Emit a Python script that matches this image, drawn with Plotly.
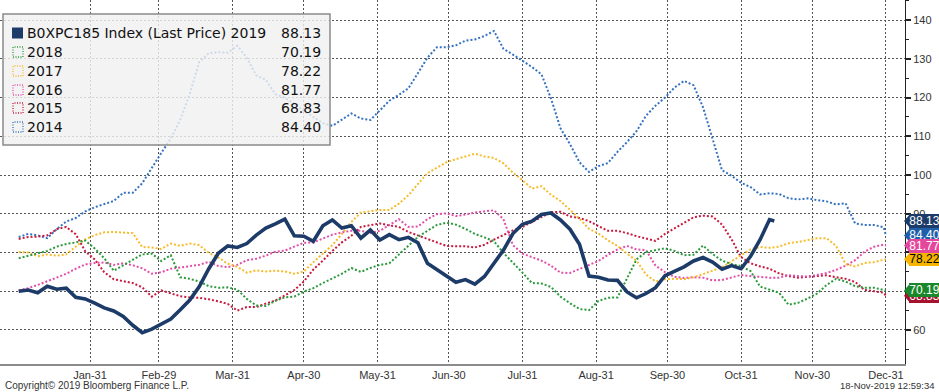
import pandas as pd
import plotly.graph_objects as go

# ---------------- data ----------------
grid = pd.date_range("2020-01-01", periods=92, freq="4D")
dates_full = list(grid.strftime("%Y-%m-%d")) + ["2020-12-31"]
dates_2019 = list(grid[:80].strftime("%Y-%m-%d")) + ["2020-11-14"]

v2019 = [70.0, 70.3, 69.6, 71.3, 70.5, 70.8, 68.4, 68.0, 66.9, 65.7,
         64.9, 63.5, 61.2, 59.3, 60.2, 61.5, 62.8, 65.2, 67.7, 71.2,
         75.8, 79.8, 81.7, 81.3, 82.3, 84.5, 86.3, 87.4, 88.6, 84.3,
         84.2, 82.9, 86.9, 88.4, 86.3, 86.9, 83.7, 85.8, 83.2, 84.6,
         83.3, 83.9, 82.5, 77.2, 75.5, 73.8, 72.3, 73.0, 71.8, 73.8,
         77.2, 80.6, 84.9, 87.3, 88.1, 89.8, 90.2, 88.4, 86.0, 82.1,
         73.9, 73.6, 72.9, 72.8, 69.8, 68.3, 69.4, 70.9, 74.0, 75.1,
         76.3, 77.8, 78.7, 77.5, 75.7, 76.6, 75.8, 79.0, 83.3, 88.5,
         88.13]

v2018 = [78.5, 79.1, 79.6, 80.4, 81.5, 82.2, 82.6, 83.1, 81.0, 78.5,
         75.3, 76.7, 78.0, 79.5, 79.7, 77.8, 79.3, 73.6, 73.2, 72.5,
         71.3, 70.9, 71.0, 70.4, 68.0, 66.3, 66.2, 67.5, 68.4, 68.6,
         69.9, 70.8, 72.1, 73.3, 74.5, 76.0, 75.0, 76.0, 76.8, 77.2,
         79.5, 81.9, 84.0, 85.6, 87.1, 87.7, 87.2, 86.1, 84.8, 83.9,
         82.9, 79.9, 77.4, 74.8, 72.1, 72.0, 71.1, 68.6, 66.9, 65.4,
         65.1, 67.5, 68.3, 68.4, 73.3, 78.2, 80.1, 80.7, 81.1, 80.4,
         79.3, 79.4, 81.8, 79.6, 77.9, 77.0, 76.5, 75.2, 71.2, 70.4,
         69.6, 66.5, 67.0, 68.1, 69.4, 71.6, 73.2, 72.5, 71.3, 70.9,
         70.9, 70.3, 70.19]

v2017 = [80.1, 80.0, 79.0, 79.5, 79.2, 79.5, 81.5, 83.4, 84.5, 85.2,
         85.3, 85.2, 85.0, 81.4, 81.3, 80.9, 82.3, 81.7, 82.3, 81.9,
         79.9, 78.7, 77.1, 76.3, 74.8, 75.4, 75.1, 75.3, 75.1, 74.5,
         75.1, 77.5, 79.8, 81.9, 84.8, 87.9, 90.3, 90.7, 91.0, 91.0,
         92.6, 94.8, 97.6, 100.5, 101.9, 103.3, 104.1, 104.8, 105.5, 104.8,
         104.4, 103.0, 100.6, 98.7, 96.5, 97.1, 94.9, 93.3, 91.1, 88.7,
         86.1, 84.9, 83.1, 81.7, 79.7, 77.9, 74.3, 72.5, 73.1, 73.2,
         73.1, 73.6, 74.4, 75.2, 76.2, 77.7, 79.3, 80.8, 81.4, 81.2,
         81.5, 82.4, 82.7, 83.2, 83.7, 83.7, 81.7, 77.0, 76.4, 77.3,
         77.5, 78.1, 78.22]

v2016 = [70.2, 70.8, 71.6, 72.6, 73.4, 74.5, 75.8, 76.9, 77.3, 77.4,
         76.8, 77.2, 76.7, 75.9, 74.5, 74.9, 75.8, 76.1, 76.4, 76.8,
         77.6, 76.5, 76.2, 76.8, 78.0, 78.4, 79.2, 80.2, 80.5, 81.6,
         82.5, 82.6, 83.5, 84.6, 85.2, 85.6, 85.6, 85.0, 85.6, 87.1,
         88.6, 86.6, 86.7, 88.6, 89.9, 90.1, 89.4, 89.8, 90.3, 90.6,
         90.9, 88.6, 81.9, 79.7, 78.7, 77.9, 76.6, 74.8, 74.7, 75.8,
         76.8, 77.8, 79.4, 80.8, 81.7, 80.8, 80.6, 76.6, 74.9, 73.7,
         73.4, 73.6, 73.5, 72.8, 72.9, 73.6, 74.2, 73.9, 73.7, 73.5,
         73.5, 74.1, 73.9, 73.8, 74.2, 74.7, 75.5, 76.6, 78.0, 80.2,
         81.5, 82.0, 81.77]

v2015 = [83.5, 84.0, 84.1, 84.4, 86.0, 86.6, 84.7, 80.3, 78.2, 74.9,
         73.1, 72.6, 72.1, 71.0, 68.6, 70.2, 69.4, 68.7, 68.4, 68.3,
         67.9, 67.4, 66.7, 65.0, 65.9, 65.9, 66.8, 67.6, 68.9, 70.3,
         72.5, 75.6, 77.9, 80.4, 82.6, 84.3, 86.6, 87.1, 87.5, 87.0,
         86.6, 85.3, 84.4, 83.6, 82.7, 81.7, 81.6, 81.6, 81.3, 82.0,
         83.3, 84.5, 85.7, 86.6, 87.9, 89.3, 90.4, 90.5, 89.3, 88.9,
         88.1, 86.8, 85.6, 85.6, 85.0, 84.2, 83.5, 83.0, 84.8, 86.3,
         87.6, 89.1, 89.5, 89.3, 87.2, 83.4, 78.8, 77.2, 76.4, 75.8,
         74.6, 73.9, 73.5, 73.7, 73.9, 74.1, 73.6, 73.2, 72.4, 70.3,
         70.0, 69.6, 68.83]

v2014 = [84.0, 84.8, 84.4, 83.7, 86.0, 88.0, 88.9, 90.6, 91.7, 92.4,
         93.3, 95.4, 95.4, 97.9, 101.9, 105.7, 109.4, 114.3, 121.0, 129.2,
         131.5, 131.7, 131.6, 133.4, 130.3, 125.7, 124.6, 120.9, 119.9, 118.4,
         116.6, 114.9, 113.4, 112.7, 114.3, 115.9, 114.6, 114.2, 116.7, 119.2,
         120.7, 122.4, 126.3, 130.3, 133.0, 133.0, 133.5, 134.7, 135.0, 135.9,
         137.2, 132.6, 131.1, 129.5, 127.9, 126.0, 119.8, 112.1, 108.0, 103.3,
         100.8, 102.3, 103.1, 106.0, 108.5, 111.3, 115.3, 117.9, 120.0, 122.6,
         124.3, 123.2, 117.5, 109.4, 101.2, 99.8, 98.0, 96.9, 95.0, 95.3,
         95.1, 94.0, 93.7, 94.0, 93.5, 93.2, 92.4, 92.7, 87.5, 87.1,
         87.1, 86.5, 84.4]

x_tickvals = ["2020-01-31", "2020-02-29", "2020-03-31", "2020-04-30", "2020-05-31",
              "2020-06-30", "2020-07-31", "2020-08-31", "2020-09-30", "2020-10-31",
              "2020-11-30", "2020-12-31"]
x_ticktext = ["Jan-31", "Feb-29", "Mar-31", "Apr-30", "May-31", "Jun-30",
              "Jul-31", "Aug-31", "Sep-30", "Oct-31", "Nov-30", "Dec-31"]
y_tickvals = [60, 70, 80, 90, 100, 110, 120, 130, 140]

legend_name_2019 = "B0XPC185 Index (Last Price) 2019"
series = [  # name, dates, values, color
    ("2014", dates_full, v2014, "#3472c0"),
    ("2015", dates_full, v2015, "#c81a3e"),
    ("2016", dates_full, v2016, "#e24ea8"),
    ("2017", dates_full, v2017, "#f7bb2a"),
    ("2018", dates_full, v2018, "#2b9a3c"),
]
c2019 = "#1c3b68"

# ---------------- figure ----------------
W, H = 939, 392
ML, MR, MT, MB = 0, 34, 0, 28
PW, PH = W - ML - MR, H - MT - MB


def px(x):
    return (x - ML) / PW


def py(y):
    return 1 - (y - MT) / PH


fig = go.Figure()
for name, d, v, col in series:
    fig.add_trace(go.Scatter(x=d, y=v, mode="lines", name=name,
                             line=dict(color=col, width=2, dash="2px,2px")))
fig.add_trace(go.Scatter(x=dates_2019, y=v2019, mode="lines", name="2019",
                         line=dict(color=c2019, width=3.6)))

shapes = []
annotations = []

# legend box
shapes.append(dict(type="rect", xref="paper", yref="paper",
                   x0=px(3), x1=px(330), y0=py(145), y1=py(14),
                   fillcolor="rgba(240,240,240,0.82)",
                   line=dict(color="#8a8a8a", width=1.5), layer="above"))
rows = [33, 52, 71, 90, 108, 127]
legend_items = [(legend_name_2019, v2019[-1], c2019, True)]
for name, d, v, col in [series[4], series[3], series[2], series[1], series[0]]:
    legend_items.append((name, v[-1], col, False))
for (label, val, col, filled), ry in zip(legend_items, rows):
    if filled:
        shapes.append(dict(type="rect", xref="paper", yref="paper",
                           x0=px(12), x1=px(23), y0=py(ry + 5.5), y1=py(ry - 5.5),
                           fillcolor=col, line=dict(width=0), layer="above"))
    else:
        shapes.append(dict(type="rect", xref="paper", yref="paper",
                           x0=px(13), x1=px(23), y0=py(ry + 5), y1=py(ry - 5),
                           fillcolor="rgba(0,0,0,0)",
                           line=dict(color=col, width=1.3, dash="1px,1.5px"),
                           layer="above"))
    annotations.append(dict(text=label, xref="paper", yref="paper",
                            x=px(25), y=py(ry), xanchor="left", yanchor="middle",
                            showarrow=False,
                            font=dict(family="DejaVu Sans", size=14, color="#111")))
    annotations.append(dict(text=f"{val:.2f}", xref="paper", yref="paper",
                            x=px(323), y=py(ry), xanchor="right", yanchor="middle",
                            showarrow=False,
                            font=dict(family="DejaVu Sans", size=14, color="#111")))

# right-edge value flags
flags = [
    (v2015[-1], "#a5122e", "white"),
    (v2014[-1], "#1f5ea8", "white"),
    (v2017[-1], "#f6b500", "black"),
    (v2016[-1], "#e4479c", "white"),
    (v2019[-1], c2019, "white"),
    (v2018[-1], "#19882b", "white"),
]
for val, bg, fc in flags:
    shapes.append(dict(type="path", xref="paper", yref="y",
                       xsizemode="pixel", ysizemode="pixel",
                       xanchor=1, yanchor=val,
                       path="M -1 0 L 5 7 L 5 -7 Z",
                       fillcolor=bg, line=dict(width=0), layer="above"))
    annotations.append(dict(text=f"{val:.2f}", xref="paper", yref="y",
                            x=1, y=val, xanchor="left", yanchor="middle",
                            xshift=4, showarrow=False, width=31, height=14,
                            bgcolor=bg, borderpad=0, borderwidth=0, align="center",
                            font=dict(family="Liberation Sans", size=12, color=fc)))

# footers
annotations.append(dict(text="Copyright© 2019 Bloomberg Finance L.P.",
                        xref="paper", yref="paper", x=px(3), y=py(385),
                        xanchor="left", yanchor="middle", showarrow=False,
                        font=dict(family="Liberation Sans", size=10, color="#333")))
annotations.append(dict(text="18-Nov-2019 12:59:34",
                        xref="paper", yref="paper", x=px(937), y=py(385),
                        xanchor="right", yanchor="middle", showarrow=False,
                        font=dict(family="Liberation Sans", size=9.5, color="#333")))

fig.update_layout(
    width=W, height=H,
    margin=dict(l=ML, r=MR, t=MT, b=MB),
    paper_bgcolor="white", plot_bgcolor="white",
    showlegend=False, hovermode=False,
    shapes=shapes, annotations=annotations,
    xaxis=dict(type="date", range=["2019-12-24 03:00", "2021-01-08"],
               tickvals=x_tickvals, ticktext=x_ticktext, ticks="",
               showgrid=True, gridcolor="#555", gridwidth=1, griddash="2px,2px",
               showline=True, linecolor="#8c8c8c", linewidth=2,
               zeroline=False, automargin=False,
               tickfont=dict(family="Liberation Sans", size=11, color="#333")),
    yaxis=dict(side="right", range=[51.2, 145.2], tickvals=y_tickvals,
               ticks="outside", ticklen=5, tickwidth=2, tickcolor="#222",
               minor=dict(dtick=5, ticks="outside", ticklen=3, tickcolor="#222",
                          tickwidth=1, showgrid=False),
               showgrid=True, gridcolor="#555", gridwidth=1, griddash="2px,2px",
               showline=True, linecolor="#222", linewidth=1,
               zeroline=False, automargin=False,
               tickfont=dict(family="Liberation Sans", size=11, color="#333")),
)

fig.write_html("out.html",
               config={"displayModeBar": False, "staticPlot": True},
               post_script="document.body.style.margin='0';"
                           "document.body.style.overflow='hidden';")
